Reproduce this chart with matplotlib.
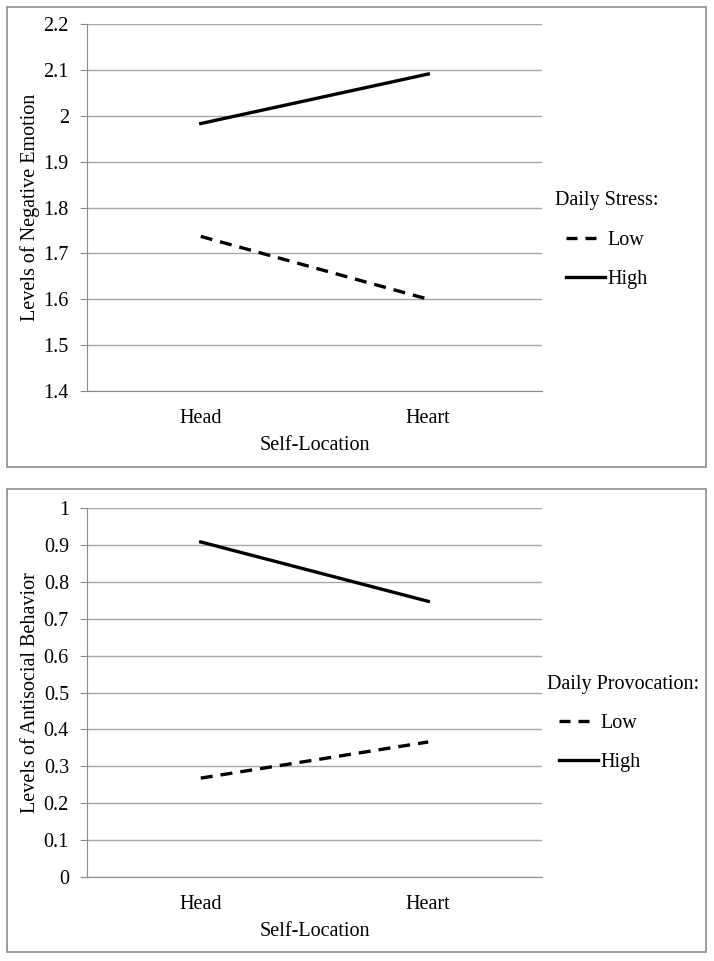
import matplotlib.pyplot as plt
from matplotlib.patches import Rectangle
from matplotlib.lines import Line2D

# --- data ---
locations = ["Head", "Heart"]

stress_low = [1.737, 1.600]
stress_high = [1.983, 2.091]
stress_ticks = [1.4, 1.5, 1.6, 1.7, 1.8, 1.9, 2.0, 2.1, 2.2]
stress_ticklabels = ["1.4", "1.5", "1.6", "1.7", "1.8", "1.9", "2", "2.1", "2.2"]

prov_low = [0.268, 0.366]
prov_high = [0.908, 0.747]
prov_ticks = [0, 0.1, 0.2, 0.3, 0.4, 0.5, 0.6, 0.7, 0.8, 0.9, 1.0]
prov_ticklabels = ["0", "0.1", "0.2", "0.3", "0.4", "0.5", "0.6", "0.7", "0.8", "0.9", "1"]

plt.rcParams["font.family"] = ["Liberation Serif", "DejaVu Serif"]
FS = 14.5
LW = 2.4

W, H = 714, 961
fig = plt.figure(figsize=(W / 100, H / 100), dpi=100)


def px_rect(x0, y0, x1, y1):
    # pixel box (top-left origin) -> figure fraction
    return [x0 / W, 1 - y1 / H, (x1 - x0) / W, (y1 - y0) / H]


def panel(box, axbox, low, high, ticks, ticklabels, ylabel, legtitle, title_xy, leg_xy):
    fig.patches.append(Rectangle((box[0], box[1]), box[2], box[3],
                                 transform=fig.transFigure, fill=False,
                                 edgecolor="#8c8c8c", linewidth=1.2))
    ax = fig.add_axes(axbox)
    x = [0.5, 1.5]
    ax.plot(x, low, color="black", lw=LW, dashes=(3.6, 2.4),
            dash_capstyle="butt")
    ax.plot(x, high, color="black", lw=LW)
    ax.set_xlim(0, 2)
    ax.set_ylim(ticks[0], ticks[-1])
    ax.set_yticks(ticks)
    ax.set_yticklabels(ticklabels, fontsize=FS)
    ax.set_xticks(x)
    ax.set_xticklabels(locations, fontsize=FS)
    ax.tick_params(axis="x", length=0, pad=13)
    ax.tick_params(axis="y", length=5, color="#8c8c8c", pad=8)
    ax.grid(axis="y", color="#a8a8a8", lw=1.0)
    ax.set_axisbelow(True)
    for s in ["top", "right"]:
        ax.spines[s].set_visible(False)
    ax.spines["left"].set_color("#8c8c8c")
    ax.spines["bottom"].set_color("#8c8c8c")
    ax.set_xlabel("Self-Location", fontsize=FS, labelpad=6)
    ax.set_ylabel(ylabel, fontsize=FS)
    ax.yaxis.set_label_coords(-0.103, 0.5)

    fig.text(title_xy[0] / W, 1 - title_xy[1] / H, legtitle, fontsize=FS,
             ha="left", va="center")
    handles = [Line2D([], [], color="black", lw=LW, dashes=(3.3, 2.4, 3.3, 8),
                      dash_capstyle="butt"),
               Line2D([], [], color="black", lw=LW)]
    ax.legend(handles, ["Low", "High"], loc="upper left",
              bbox_to_anchor=(leg_xy[0] / W, 1 - leg_xy[1] / H),
              bbox_transform=fig.transFigure, frameon=False, fontsize=FS,
              handlelength=1.95, handletextpad=0.1, labelspacing=1.0,
              borderaxespad=0, borderpad=0)
    return ax


panel(px_rect(7, 7, 706, 467), px_rect(87, 24, 542, 391),
      stress_low, stress_high, stress_ticks, stress_ticklabels,
      "Levels of Negative Emotion", "Daily Stress:", (555, 200), (566, 231))
panel(px_rect(7, 489, 706, 952), px_rect(87, 508, 542, 877),
      prov_low, prov_high, prov_ticks, prov_ticklabels,
      "Levels of Antisocial Behavior", "Daily Provocation:", (547, 684), (559, 714))

fig.savefig("out.png", dpi=100)
